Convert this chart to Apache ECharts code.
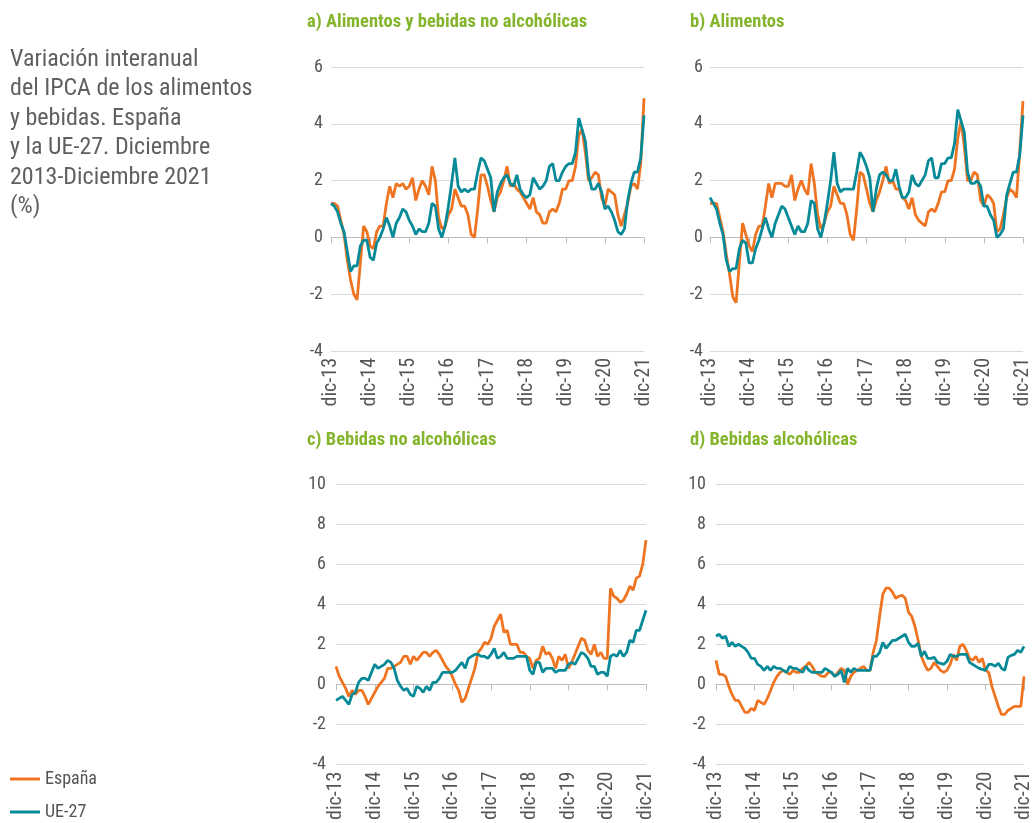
<!DOCTYPE html>
<html><head><meta charset="utf-8">
<script src="https://cdn.jsdelivr.net/npm/echarts@6/dist/echarts.min.js"></script>
<style>html,body{margin:0;padding:0;background:#fff}#c{width:1034px;height:823px}</style>
</head><body><div id="c"></div>
<script>
// ---- data ----
const monthNames = ['ene','feb','mar','abr','may','jun','jul','ago','sep','oct','nov','dic'];
const years = ['13','14','15','16','17','18','19','20','21'];
const categories = ['dic-13'];
for (let y = 1; y < years.length; y++) for (let m = 0; m < 12; m++) categories.push(monthNames[m] + '-' + years[y]);

const seriesNames = ['España', 'UE-27'];
const panelTitles = ['a) Alimentos y bebidas no alcohólicas', 'b) Alimentos', 'c) Bebidas no alcohólicas', 'd) Bebidas alcohólicas'];

const aEsp = [1.2,1.2,1.1,0.6,0.1,-0.8,-1.5,-2.0,-2.2,-0.9, 0.4,0.2,-0.3,-0.4,0.2,0.4,0.4,1.2,1.8,1.4, 1.9,1.8,1.9,1.7,1.8,2.1,1.3,1.7,2.0,1.8, 1.5,2.5,2.0,0.7,0.3,0.4,0.8,1.0,1.7,1.4, 1.1,1.1,0.8,0.1,0.0,1.0,2.2,2.2,1.8,1.3, 0.9,1.4,1.6,2.0,2.5,1.8,1.9,1.7,1.6,1.4, 1.2,1.0,1.4,0.9,0.8,0.5,0.5,0.9,1.0,0.9, 1.2,1.7,1.7,2.0,2.0,2.5,3.6,3.8,3.0,2.0, 2.1,2.3,2.2,1.4,1.1,1.7,1.6,1.5,0.8,0.4, 0.8,1.2,1.8,1.9,1.7,2.6,4.9];
const aUE = [1.2,1.1,0.9,0.5,0.2,-0.5,-1.2,-1.0,-1.0,-0.3, -0.1,-0.1,-0.7,-0.8,-0.2,0.0,0.3,0.7,0.4,0.0, 0.5,0.7,1.0,0.9,0.6,0.4,0.1,0.3,0.2,0.2, 0.5,1.2,1.1,0.3,0.0,0.4,1.1,1.9,2.8,1.8, 1.6,1.7,1.6,1.7,1.7,2.3,2.8,2.7,2.4,2.1, 0.9,1.6,1.9,2.1,2.2,1.9,1.8,2.2,1.7,1.5, 1.4,1.5,2.1,1.9,1.7,1.8,2.0,2.5,2.6,2.0, 2.0,2.3,2.5,2.6,2.6,3.0,4.2,3.8,3.4,2.2, 1.7,1.7,1.9,1.6,1.0,1.1,0.9,0.6,0.2,0.1, 0.3,1.3,1.9,2.3,2.3,2.8,4.3];
const bEsp = [1.2,1.2,1.2,0.7,0.2,-0.6,-1.3,-2.1,-2.3,-0.9, 0.5,0.1,-0.3,-0.5,0.1,0.4,0.4,1.1,1.9,1.4, 1.9,1.9,1.9,1.8,1.8,2.2,1.3,1.7,2.0,1.7, 1.5,2.6,1.9,0.8,0.3,0.5,0.9,1.1,1.8,1.5, 1.2,1.2,0.8,0.1,-0.1,1.0,2.3,2.2,1.7,1.2, 0.9,1.3,1.6,2.0,2.5,1.9,2.0,1.7,1.7,1.4, 1.3,1.0,1.4,0.8,0.6,0.5,0.4,0.9,1.0,0.9, 1.2,1.6,1.6,2.0,2.0,2.4,3.5,4.1,3.2,2.0, 2.0,2.3,2.2,1.3,1.1,1.5,1.4,1.2,0.2,0.3, 0.8,1.4,1.7,1.6,1.4,3.0,4.8];
const bUE = [1.4,1.2,1.0,0.5,0.1,-0.8,-1.2,-1.1,-1.1,-0.4, -0.1,-0.2,-0.9,-0.9,-0.4,-0.1,0.3,0.7,0.3,0.0, 0.5,0.8,1.1,1.0,0.7,0.4,0.1,0.4,0.2,0.2, 0.5,1.3,1.2,0.3,0.0,0.5,1.2,2.0,3.0,1.9, 1.6,1.7,1.7,1.7,1.7,2.3,3.0,2.8,2.5,2.1, 0.9,1.7,2.2,2.3,2.2,2.0,2.0,2.4,1.8,1.4, 1.4,1.6,2.2,1.9,1.8,2.0,2.2,2.7,2.8,2.1, 2.1,2.6,2.6,2.8,2.8,3.3,4.5,4.1,3.7,2.3, 1.9,1.9,2.0,1.8,1.1,1.1,0.8,0.6,0.0,0.1, 0.3,1.5,1.9,2.3,2.3,2.9,4.3];
const cEsp = [0.9,0.4,0.1,-0.2,-0.6,-0.3,-0.5,-0.3,-0.3,-0.6, -1.0,-0.7,-0.4,-0.1,0.1,0.3,0.8,0.8,0.9,1.0, 1.1,1.4,1.4,1.0,1.4,1.2,1.4,1.6,1.6,1.4, 1.6,1.7,1.5,1.2,0.9,0.7,0.4,0.0,-0.3,-0.9, -0.7,-0.2,0.3,0.8,1.6,1.8,2.1,2.0,2.3,2.9, 3.2,3.5,2.6,2.7,2.0,2.0,2.0,1.6,1.6,1.4, 1.3,0.8,1.2,1.3,1.9,1.5,1.6,1.3,0.8,1.4, 1.2,1.5,0.8,1.1,1.5,1.9,2.3,2.2,1.7,1.5, 2.0,1.4,1.6,1.3,1.3,4.8,4.4,4.3,4.1,4.2, 4.5,4.9,4.7,5.3,5.4,6.0,7.2];
const cUE = [-0.8,-0.7,-0.6,-0.8,-1.0,-0.5,-0.4,0.1,0.3,0.3, 0.2,0.6,1.0,0.8,0.9,1.0,1.2,1.1,0.8,0.2, -0.1,-0.3,-0.2,-0.5,-0.6,-0.1,-0.2,-0.4,-0.1,-0.3, 0.1,0.1,0.3,0.6,0.6,0.6,0.6,0.7,0.9,1.1, 0.8,1.3,1.4,1.5,1.5,1.4,1.4,1.3,1.5,1.8, 1.3,1.4,1.6,1.3,1.3,1.3,1.4,1.4,1.4,1.4, 0.7,0.5,1.1,1.1,0.6,0.8,0.8,0.8,0.6,0.7, 0.7,0.7,1.0,1.1,1.0,1.3,1.6,1.5,1.3,0.9, 0.9,0.5,0.6,0.6,0.4,1.4,1.5,1.4,1.7,1.4, 1.6,2.2,2.1,2.7,2.7,3.2,3.7];
const dEsp = [1.2,0.5,0.5,0.4,-0.1,-0.5,-0.8,-0.8,-1.1,-1.4, -1.4,-1.2,-1.3,-0.8,-0.9,-1.0,-0.7,-0.3,0.1,0.4, 0.6,0.7,0.6,0.5,0.7,0.6,0.6,0.8,0.9,1.1, 0.9,0.6,0.5,0.4,0.4,0.6,0.6,0.4,0.6,0.8, 0.7,0.0,0.4,0.6,0.7,0.8,0.9,0.7,0.7,1.6, 2.2,3.4,4.5,4.8,4.8,4.6,4.3,4.4,4.45,4.3, 3.6,3.4,2.9,2.2,1.4,1.0,0.7,0.8,1.1,0.9, 0.7,0.6,0.7,1.0,1.5,1.2,1.9,2.0,1.7,1.3, 1.2,1.4,1.1,1.3,0.7,0.6,-0.1,-0.6,-1.1,-1.5, -1.5,-1.3,-1.2,-1.1,-1.1,-1.1,0.4];
const dUE = [2.4,2.5,2.3,2.4,1.9,2.1,1.9,2.0,1.9,1.8, 1.6,1.3,1.3,1.0,0.9,0.7,0.9,0.7,0.9,0.8, 0.8,0.7,0.6,0.9,0.8,0.8,0.7,0.6,0.9,0.7, 0.6,0.6,0.6,0.6,0.8,0.7,0.6,0.4,0.5,0.7, 0.1,0.8,0.6,0.8,0.7,0.7,0.7,0.7,0.7,1.4, 1.4,1.6,2.1,1.8,2.0,2.2,2.2,2.3,2.4,2.5, 2.1,1.9,1.9,2.05,1.4,1.65,1.3,1.3,1.35,1.1, 1.05,1.0,1.15,1.5,1.4,1.4,1.5,1.5,1.5,1.1, 1.0,0.9,0.8,0.75,0.7,1.0,1.0,0.9,1.05,0.8, 0.7,1.35,1.45,1.5,1.7,1.6,1.9];

const yMinA = -4, yMaxA = 6, yMinC = -4, yMaxC = 10, yStep = 2;

// ---- layout / style ----
const F = '"Roboto Condensed", "Liberation Sans Narrow", Roboto, sans-serif';
const ORANGE = '#EE7421', TEAL = '#078A98', GREEN = '#84B52C', TXT = '#555555';
const panels = [
  {esp: aEsp, ue: aUE, left: 331, top: 67, width: 313, min: yMinA, max: yMaxA, tx: 307, ty: 13, lm: 8},
  {esp: bEsp, ue: bUE, left: 710, top: 67, width: 313, min: yMinA, max: yMaxA, tx: 690, ty: 13, lm: 7},
  {esp: cEsp, ue: cUE, left: 336, top: 484, width: 310, min: yMinC, max: yMaxC, tx: 307, ty: 431, lm: 10},
  {esp: dEsp, ue: dUE, left: 716, top: 484, width: 310, min: yMinC, max: yMaxC, tx: 690, ty: 431, lm: 10}
];

const grid = [], xAxis = [], yAxis = [], series = [], title = [];
title.push({
  text: 'Variación interanual\ndel IPCA de los alimentos\ny bebidas. España\ny la UE-27. Diciembre\n2013-Diciembre 2021\n(%)',
  left: 10, top: 45, padding: 0,
  textStyle: {fontFamily: F, fontSize: 24, lineHeight: 29.5, color: '#606060', fontWeight: 'normal'}
});
const yearTick = (idx) => idx % 12 === 0;
panels.forEach((p, i) => {
  grid.push({left: p.left, top: p.top, width: p.width, height: 284, containLabel: false});
  title.push({text: panelTitles[i], left: p.tx, top: p.ty, padding: 0,
    textStyle: {fontFamily: F, fontSize: 18.5, fontWeight: 'bold', color: GREEN}});
  xAxis.push({gridIndex: i, type: 'category', data: categories, boundaryGap: false, position: 'bottom',
    axisLine: {onZero: true, lineStyle: {color: '#bdbdbd', width: 1}},
    axisTick: {interval: yearTick, length: 6, lineStyle: {color: '#bdbdbd'}},
    axisLabel: {show: false}, splitLine: {show: false}});
  xAxis.push({gridIndex: i, type: 'category', data: categories, boundaryGap: false, position: 'bottom',
    axisLine: {show: false, onZero: false}, axisTick: {show: false}, splitLine: {show: false},
    axisLabel: {interval: yearTick, rotate: 90, margin: 7, color: TXT, fontSize: 20, fontFamily: F}});
  yAxis.push({gridIndex: i, type: 'value', min: p.min, max: p.max, interval: yStep,
    axisLine: {show: false}, axisTick: {show: false},
    splitLine: {lineStyle: {color: '#dadada', width: 1}},
    axisLabel: {margin: p.lm, color: TXT, fontSize: 18, fontFamily: F}});
  [[seriesNames[0], p.esp, ORANGE], [seriesNames[1], p.ue, TEAL]].forEach(([name, data, color]) => {
    series.push({name, type: 'line', xAxisIndex: 2 * i, yAxisIndex: i, data, symbol: 'none',
      lineStyle: {color, width: 2.8}, itemStyle: {color}, animation: false, z: name === 'España' ? 2 : 3});
  });
});

const legendStyle = {icon: 'rect', itemWidth: 30, itemHeight: 3, itemGap: 5, padding: 0, selectedMode: false,
  textStyle: {fontFamily: F, fontSize: 18, color: TXT}};
const chart = echarts.init(document.getElementById('c'), null, {renderer: 'canvas'});
chart.setOption({
  animation: false,
  title, grid, xAxis, yAxis, series,
  legend: [
    Object.assign({data: [seriesNames[0]], left: 10, top: 770}, legendStyle),
    Object.assign({data: [seriesNames[1]], left: 10, top: 803}, legendStyle)
  ]
});
</script></body></html>
